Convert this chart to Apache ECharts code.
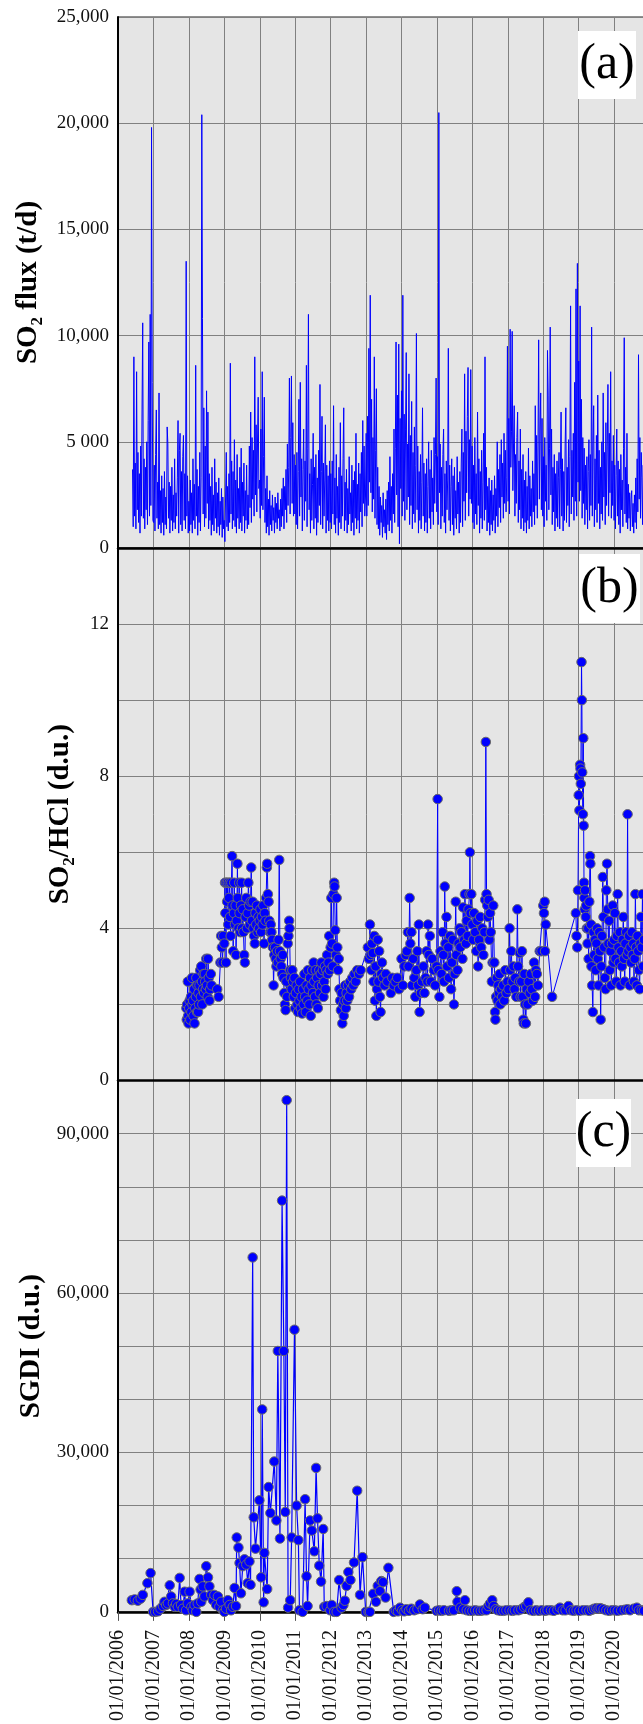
<!DOCTYPE html>
<html>
<head>
<meta charset="utf-8">
<script src="https://cdn.jsdelivr.net/npm/echarts/dist/echarts.min.js"></script>
<style>
  html, body { margin: 0; padding: 0; background: #fff; width: 643px; overflow: hidden; }
  #chart { width: 700px; height: 1724px; }
</style>
</head>
<body>
<div id="chart"></div>
<script>
// x axis is in decimal years; labels read 01/01/YYYY
const xMin = 2006;
const xMax = 2022;

// (a) SO2 flux, t/d, one reading per week from late May 2006
const fluxStart = 2006.41;
const fluxStep = 7 / 365.25;
const fluxValues = [
  // 2006
  3700,1000,9000,1500,4000,900,8300,1800,4500,1200,3500,700,4800,1500,6500,10600,1400,4200,900,3800,1800,5000,1100,6000,9700,1500,11000,2000,19800,7800,1300,
  // 2007
  1200,3900,800,4400,6500,1400,3100,900,7300,1100,2700,700,3400,1200,2800,600,3600,1100,2400,900,5700,4900,1400,3100,700,2900,1300,3800,800,2500,1200,4200,900,2600,1500,3300,6000,700,4600,5400,1100,3600,800,4300,5300,1300,3500,900,13500,1500,3400,700,
  // 2008
  2200,800,3200,1100,2600,700,4200,1300,3000,900,8600,1500,3700,600,2900,1200,4500,800,3300,20400,10800,1600,6600,1000,4800,1400,7400,2100,6400,900,3500,1300,2900,600,3800,1100,2500,800,4200,1400,3100,700,2600,1000,3300,600,2200,1100,2800,500,2400,900,
  // 2009
  1300,300,2400,4500,1000,2900,800,3500,1200,8700,1600,4100,900,3600,1300,5100,1000,3200,700,4400,1400,2800,900,3800,1200,4700,800,3100,1500,4000,700,2700,1300,3900,900,2500,1100,4800,1900,6400,1200,5200,2300,4600,1500,9000,2500,5800,1700,4900,7100,2800,
  // 2010
  3200,1400,5600,2000,8300,1800,4300,7100,1200,2800,700,3400,1000,2300,600,2700,1100,2000,800,2500,1300,1900,700,2400,1200,2100,900,2600,1400,1800,800,2300,1000,2800,1500,3300,900,2900,1800,3700,1200,4900,2000,3800,8000,1600,5200,8100,2100,5900,1500,4400,
  // 2011
  1600,3900,1100,4500,900,3600,7000,1500,7800,2400,4200,800,3700,5600,1300,4100,2200,8600,1000,4700,11000,1800,3500,700,4200,1300,3000,5400,900,3800,1400,4400,600,3300,1200,4600,2000,7700,1100,3600,6200,900,4000,1500,3200,5800,700,3900,1300,3400,800,4100,
  // 2012
  1200,3500,900,4100,1600,6700,1100,3300,700,4400,1400,2900,600,3800,1200,5900,900,3400,1500,4200,6600,800,3100,1300,3700,700,2800,1100,4300,1600,2600,800,3900,1200,3200,600,3600,1400,5400,900,3000,1300,4000,700,3500,1700,4500,1000,6000,2100,4800,1500,
  // 2013
  2400,5400,1500,6200,2000,9400,3100,11900,2600,7000,1700,5200,2300,9000,1400,4600,7500,1100,3800,900,2900,600,2400,1200,2000,500,2600,1000,1800,700,2300,400,2700,1100,3100,800,4300,1300,2900,700,3500,1600,5600,1200,4700,9700,2500,7200,1000,9600,200,6100,
  // 2014
  2800,7400,1500,11900,2200,6300,1300,5600,9200,1800,4900,2400,8200,1100,5300,2000,6900,900,4500,1600,5700,1200,3900,10100,1800,4800,700,3600,1300,4400,900,3100,6600,1500,4000,800,3500,1200,4200,700,2900,5000,1400,3700,900,4600,1700,3300,1100,5200,2100,4400,
  // 2015
  8000,1700,4300,1100,20500,2600,4900,900,3800,1500,4400,5600,1200,3500,700,4100,1800,3200,9400,1300,3900,800,2900,4200,1100,3400,600,3800,1400,2700,900,4300,1600,3100,700,3600,1200,4000,5600,1000,4500,2200,8200,1300,5500,2600,6200,8500,1500,5100,2300,8400,
  // 2016
  2100,4800,1200,3900,900,5200,1600,3500,1100,6400,2000,4200,700,3600,1400,4600,900,3100,5400,1300,9000,1800,3800,800,2900,1200,3300,600,2700,1100,3200,800,2500,1300,3400,700,2800,1500,5000,1000,3700,1900,4400,1200,5100,2400,4000,1400,5400,2100,4600,1700,
  // 2017
  3300,9500,2200,6100,1600,10300,3800,5500,10200,2700,4900,6700,1500,4400,2100,5200,6400,1200,4100,1800,5600,900,3700,1400,4400,800,3200,1200,3600,700,2900,1300,4700,900,3400,1500,2800,1000,4100,1700,3500,1100,6700,2000,5300,1400,4800,9800,2300,5600,7300,1800,
  // 2018
  6100,1500,4300,1000,5200,2200,3900,1300,9300,7200,1800,4700,10400,2500,5600,1100,3800,1700,4400,800,3500,1400,4100,1000,3300,4500,900,3700,6400,1500,4200,800,3600,1300,4900,6600,1200,3800,2000,5100,1000,4300,11400,1600,4600,2400,5400,1300,7800,2200,12200,1500,
  // 2019
  13400,3100,8800,2200,11400,2700,7000,1400,5200,2100,4700,1100,3900,1800,4300,900,3600,5100,1300,4400,2000,10400,1500,4900,6700,1000,4200,1800,5300,1200,7200,2100,4600,900,3800,1600,5000,1300,7300,2400,4500,1100,5900,2000,4800,7700,1500,5400,2600,8300,1400,4100,
  // 2020
  2000,5300,1300,3900,900,3400,5600,1500,4100,1100,3700,700,4400,1800,3200,1000,4700,9900,1600,3800,1200,5400,900,3000,1400,2600,800,2300,2700,1000,2100,700,2500,1200,3300,900,4200,1700,9100,2300,5200,1400,4500,3300,1100,3900,1600
];

// (b) SO2/HCl ratio, [decimal year, d.u.]
const ratioPoints = [
  [2007.93,1.9],[2007.94,1.6],[2007.95,2.0],[2007.97,2.6],[2007.98,1.7],[2007.99,1.5],[2008.01,1.9],[2008.02,2.1],[2008.04,1.6],[2008.06,2.2],[2008.07,1.8],[2008.09,2.7],[2008.10,2.0],[2008.12,2.1],[2008.13,1.7],[2008.15,2.4],[2008.16,1.5],[2008.18,1.9],[2008.20,2.2],[2008.21,2.7],[2008.23,1.8],[2008.24,2.5],[2008.26,1.8],[2008.27,2.3],[2008.29,2.0],[2008.30,2.5],[2008.32,2.9],[2008.34,2.2],[2008.35,3.0],[2008.37,2.6],[2008.38,2.0],[2008.40,2.4],[2008.41,2.8],[2008.43,2.3],[2008.45,2.8],[2008.46,2.6],[2008.48,2.4],[2008.49,3.2],[2008.51,2.5],[2008.53,2.2],[2008.54,3.2],[2008.56,2.7],[2008.58,2.1],[2008.60,2.4],[2008.62,2.8],[2008.64,2.5],
  [2008.80,2.4],[2008.84,2.2],[2008.89,3.1],[2008.91,3.8],[2008.93,3.5],[2008.95,3.1],[2008.97,3.8],
  [2009.00,3.6],[2009.02,5.2],[2009.03,4.4],[2009.05,3.1],[2009.06,5.2],[2009.08,4.7],[2009.10,5.2],[2009.11,4.1],[2009.13,4.8],[2009.15,5.2],[2009.16,4.3],[2009.18,3.8],[2009.20,5.2],[2009.22,5.9],[2009.23,4.6],[2009.25,3.4],[2009.27,4.4],[2009.28,5.2],[2009.30,4.1],[2009.32,4.6],[2009.33,3.3],[2009.35,4.2],[2009.37,5.7],[2009.38,4.8],[2009.40,4.0],[2009.42,5.2],[2009.43,4.4],[2009.45,3.9],[2009.47,4.6],[2009.49,5.2],[2009.50,4.0],[2009.52,4.5],[2009.54,3.9],[2009.56,3.3],[2009.58,3.1],[2009.60,4.3],[2009.62,4.8],[2009.64,4.0],[2009.66,4.4],[2009.68,5.2],[2009.70,4.6],[2009.72,4.1],[2009.74,4.7],[2009.76,5.6],[2009.78,4.2],[2009.80,4.7],[2009.82,4.0],[2009.84,3.8],[2009.86,3.6],[2009.88,4.4],[2009.90,4.1],[2009.92,4.6],[2009.94,3.9],[2009.96,4.3],[2009.98,4.0],
  [2010.00,4.2],[2010.02,4.5],[2010.04,3.9],[2010.06,4.3],[2010.08,4.1],[2010.10,4.6],[2010.12,3.6],[2010.14,4.4],[2010.16,4.2],[2010.18,4.8],[2010.20,5.6],[2010.21,5.7],[2010.23,4.9],[2010.25,4.7],[2010.27,4.2],[2010.29,3.9],[2010.31,4.1],[2010.33,3.9],[2010.35,3.7],[2010.37,3.5],[2010.39,2.5],[2010.41,3.3],[2010.43,3.5],[2010.45,3.2],[2010.47,3.0],[2010.49,3.4],[2010.51,3.1],[2010.53,3.7],[2010.55,5.8],[2010.57,3.4],[2010.59,3.2],
  [2010.61,3.0],[2010.63,2.8],[2010.65,3.3],[2010.67,2.7],[2010.69,2.3],[2010.71,2.0],[2010.73,1.85],[2010.75,2.6],[2010.77,2.2],[2010.79,3.6],[2010.81,3.8],[2010.83,4.2],[2010.84,4.0],[2010.86,2.9],[2010.88,2.7],[2010.90,2.4],[2010.92,2.9],[2010.94,2.6],[2010.96,2.2],[2010.98,2.7],
  [2011.00,1.9],[2011.02,2.3],[2011.04,2.5],[2011.06,2.0],[2011.08,1.8],[2011.10,2.4],[2011.12,2.1],[2011.14,2.6],[2011.16,1.9],[2011.18,2.2],[2011.20,1.76],[2011.22,2.4],[2011.24,2.0],[2011.26,2.8],[2011.28,2.2],[2011.30,1.8],[2011.32,2.5],[2011.34,2.1],[2011.36,2.9],[2011.38,2.4],[2011.40,2.0],[2011.42,2.7],[2011.44,1.7],[2011.46,2.5],[2011.48,2.9],[2011.50,2.3],[2011.52,3.1],[2011.54,2.6],[2011.56,2.2],[2011.58,2.9],[2011.60,2.0],[2011.62,2.7],[2011.64,1.9],[2011.66,2.5],[2011.68,2.9],[2011.70,2.3],[2011.72,2.8],[2011.74,3.1],[2011.76,2.5],[2011.78,2.9],[2011.80,2.2],[2011.82,2.6],[2011.84,3.0],[2011.86,2.4],[2011.88,2.9],[2011.90,3.3],[2011.92,2.8],[2011.94,3.1],[2011.96,3.8],[2011.98,2.9],
  [2012.00,3.5],[2012.02,4.8],[2012.04,3.6],[2012.06,3.0],[2012.08,4.9],[2012.10,5.2],[2012.11,5.1],[2012.13,3.95],[2012.15,3.3],[2012.17,4.8],[2012.19,3.5],[2012.21,2.9],[2012.23,3.2],[2012.25,2.4],[2012.27,2.1],[2012.29,1.85],[2012.31,2.3],[2012.33,1.5],[2012.35,2.0],[2012.37,1.7],[2012.39,2.1],[2012.41,2.5],[2012.43,1.9],[2012.45,2.3],[2012.47,2.1],[2012.49,2.5],[2012.52,2.2],[2012.55,2.6],[2012.58,2.4],[2012.61,2.7],[2012.64,2.5],[2012.67,2.8],[2012.71,2.6],[2012.75,2.9],[2012.80,2.8],[2012.85,2.9],
  [2013.05,3.5],[2013.08,3.2],[2013.11,4.1],[2013.13,3.3],[2013.15,2.9],[2013.17,3.6],[2013.19,3.35],[2013.21,2.6],[2013.23,3.8],[2013.25,2.1],[2013.27,3.0],[2013.29,1.7],[2013.31,2.4],[2013.33,3.7],[2013.35,2.6],[2013.37,3.4],[2013.39,2.2],[2013.41,1.8],[2013.43,2.8],[2013.45,3.1],[2013.48,2.7],[2013.52,2.5],[2013.56,2.8],[2013.60,2.6],
  [2013.70,2.3],[2013.74,2.7],[2013.78,2.5],[2013.83,2.6],[2013.88,2.7],[2013.93,2.4],[2014.00,3.2],[2014.04,2.5],[2014.08,3.0],[2014.12,3.3],[2014.15,3.4],[2014.18,3.9],[2014.20,3.0],[2014.23,4.8],[2014.25,3.6],[2014.28,3.9],[2014.30,2.5],[2014.33,3.2],[2014.36,2.7],[2014.39,2.2],[2014.42,2.9],[2014.45,3.4],[2014.47,2.5],[2014.49,4.1],[2014.51,1.8],
  [2014.55,2.3],[2014.58,2.6],[2014.62,3.0],[2014.65,2.3],[2014.68,2.7],[2014.71,3.4],[2014.73,2.6],[2014.75,4.1],[2014.77,3.3],[2014.80,3.8],[2014.83,2.6],[2014.87,3.2],[2014.91,2.9],[2014.95,2.5],[2014.99,3.0],[2015.02,7.4],[2015.04,2.9],
  [2015.07,2.2],[2015.10,3.4],[2015.13,2.8],[2015.16,3.9],[2015.18,3.3],[2015.20,2.6],[2015.22,5.1],[2015.24,3.6],[2015.27,4.3],[2015.29,3.0],[2015.32,3.5],[2015.34,2.7],[2015.37,3.8],[2015.40,2.4],[2015.42,3.1],[2015.45,3.7],[2015.48,2.0],[2015.50,2.8],[2015.53,4.7],[2015.55,3.3],[2015.58,2.9],[2015.61,3.6],[2015.64,4.0],[2015.66,3.5],[2015.69,3.9],[2015.72,3.2],[2015.74,4.55],[2015.77,3.7],[2015.79,4.9],[2015.82,3.6],[2015.84,4.2],[2015.87,3.8],[2015.89,4.5],[2015.92,4.9],[2015.93,6.0],[2015.95,4.4],[2015.97,4.9],
  [2016.00,4.1],[2016.02,3.7],[2016.05,4.4],[2016.08,3.9],[2016.11,3.4],[2016.14,4.2],[2016.16,3.0],[2016.19,3.7],[2016.22,4.3],[2016.25,3.5],[2016.28,4.0],[2016.31,3.3],[2016.34,3.9],[2016.36,4.75],[2016.38,8.9],[2016.40,4.9],[2016.42,4.6],[2016.44,4.3],[2016.46,4.75],[2016.48,3.7],[2016.50,4.4],[2016.52,3.9],[2016.55,2.6],[2016.57,3.1],[2016.59,4.6],[2016.62,3.1],
  [2016.64,1.8],[2016.65,1.6],[2016.67,2.2],[2016.69,2.7],[2016.71,2.1],[2016.73,2.5],[2016.75,2.3],[2016.77,2.8],[2016.79,2.0],[2016.81,2.4],[2016.84,2.2],[2016.87,2.5],[2016.90,2.1],[2016.93,2.9],[2016.96,2.3],[2016.99,2.6],[2017.02,2.4],[2017.05,4.0],[2017.07,2.9],[2017.10,3.4],[2017.13,2.6],[2017.16,3.0],[2017.19,2.4],[2017.21,2.7],[2017.24,2.2],[2017.27,4.5],[2017.29,3.0],
  [2017.32,2.6],[2017.34,3.35],[2017.36,2.2],[2017.38,2.6],[2017.40,3.4],[2017.42,2.2],[2017.44,1.6],[2017.45,1.5],[2017.47,2.8],[2017.49,2.0],[2017.51,1.5],[2017.53,2.4],[2017.56,2.0],[2017.59,2.6],[2017.62,2.3],[2017.65,2.8],[2017.68,2.4],[2017.71,2.1],[2017.74,3.1],[2017.77,2.2],[2017.79,2.9],[2017.82,2.8],[2017.85,2.5],
  [2017.90,3.4],[2017.95,3.4],[2018.00,4.6],[2018.02,4.4],[2018.04,4.7],[2018.05,3.4],[2018.07,4.1],[2018.25,2.2],
  [2018.92,4.4],[2018.94,3.8],[2018.96,3.5],[2018.98,5.0],[2019.00,7.5],[2019.01,8.0],[2019.02,7.1],[2019.04,8.3],[2019.05,8.2],[2019.06,7.8],[2019.08,11.0],[2019.09,10.0],[2019.10,8.1],[2019.12,7.0],[2019.13,9.0],[2019.14,6.7],[2019.15,5.2],[2019.16,4.8],[2019.17,4.5],[2019.18,5.0],[2019.20,4.3],[2019.21,4.6],[2019.23,4.0],[2019.25,3.6],[2019.27,4.0],[2019.28,3.2],[2019.30,4.7],[2019.32,5.9],[2019.33,5.7],[2019.35,4.1],[2019.36,3.0],[2019.38,2.5],[2019.40,1.8],[2019.42,3.9],[2019.44,3.3],[2019.46,3.7],[2019.48,2.9],[2019.50,3.6],[2019.52,4.0],[2019.54,3.2],[2019.56,2.5],[2019.58,3.9],[2019.60,3.4],[2019.62,1.6],[2019.64,3.0],[2019.66,3.8],[2019.68,5.35],[2019.70,4.3],[2019.72,3.5],[2019.74,2.7],[2019.76,2.4],[2019.78,5.0],[2019.80,5.7],[2019.82,4.5],[2019.84,3.6],[2019.86,4.2],[2019.88,2.9],[2019.90,3.4],[2019.92,2.5],[2019.94,3.6],[2019.96,4.6],[2019.98,3.1],
  [2020.00,3.7],[2020.02,4.4],[2020.04,3.2],[2020.06,2.6],[2020.08,3.8],[2020.10,4.9],[2020.12,3.5],[2020.14,3.1],[2020.16,3.9],[2020.18,2.5],[2020.20,3.4],[2020.22,3.0],[2020.24,3.7],[2020.26,4.3],[2020.28,3.2],[2020.30,2.6],[2020.32,3.6],[2020.34,3.9],[2020.36,3.3],[2020.38,7.0],[2020.40,3.4],[2020.42,3.8],[2020.44,2.5],[2020.46,3.5],[2020.48,3.1],[2020.50,3.9],[2020.52,3.3],[2020.54,3.6],[2020.56,2.6],[2020.58,3.2],[2020.60,4.9],[2020.62,3.5],[2020.64,2.5],[2020.66,3.8],[2020.68,3.4],[2020.70,2.9],[2020.72,2.4],[2020.74,3.6],[2020.76,4.3],[2020.78,3.5],[2020.80,4.9],[2020.82,3.0],[2020.84,3.7]
];

// (c) SGDI, [decimal year, d.u.]
const sgdiPoints = [
  [2006.39,2200],[2006.47,2350],[2006.56,2100],[2006.64,2500],[2006.70,3200],[2006.83,5400],[2006.92,7300],
  [2006.99,0],[2007.05,0],[2007.13,100],[2007.20,600],[2007.27,1100],[2007.31,1900],[2007.36,1300],[2007.41,1600],[2007.46,5000],[2007.50,2900],[2007.55,1600],[2007.60,950],[2007.64,1500],[2007.69,950],[2007.74,6400],[2007.78,1300],[2007.83,600],[2007.88,3800],[2007.92,300],[2007.97,1600],
  [2008.02,3800],[2008.07,950],[2008.11,300],[2008.16,1300],[2008.21,0],[2008.25,1600],[2008.30,6200],[2008.33,4200],[2008.35,1900],[2008.39,4800],[2008.44,2900],[2008.49,8600],[2008.54,6500],[2008.58,4800],[2008.63,3200],[2008.68,2200],[2008.72,3200],[2008.77,1300],[2008.82,2900],[2008.86,950],[2008.91,1900],[2008.96,300],
  [2009.00,0],[2009.05,600],[2009.10,2200],[2009.15,1300],[2009.19,300],[2009.24,950],[2009.29,4500],[2009.33,1100],[2009.35,14000],[2009.40,12100],[2009.43,9200],[2009.47,3500],[2009.52,8600],[2009.57,9900],[2009.62,8900],[2009.66,5400],[2009.71,9500],[2009.74,5100],
  [2009.80,66700],[2009.83,17800],[2009.88,11900],[2009.99,21000],[2010.04,6500],[2010.07,38100],[2010.11,1800],[2010.13,11100],[2010.21,4300],[2010.25,23500],[2010.30,18600],[2010.41,28300],[2010.47,17200],[2010.51,49100],[2010.57,13800],[2010.63,77400],[2010.68,49100],[2010.72,18800],[2010.76,96300],[2010.80,800],[2010.86,2200],[2010.90,14000],[2010.98,53100],
  [2011.04,20000],[2011.09,13500],[2011.12,300],[2011.21,0],[2011.28,21200],[2011.32,6700],[2011.35,1100],[2011.42,17200],[2011.47,15300],[2011.54,11400],[2011.59,27100],[2011.63,17600],[2011.68,8700],[2011.73,5700],[2011.79,15600],[2011.82,950],[2011.89,1100],[2011.99,300],
  [2012.03,1300],[2012.10,0],[2012.17,0],[2012.24,6000],[2012.31,800],[2012.36,1300],[2012.40,2100],[2012.45,4900],[2012.50,7500],[2012.56,6000],[2012.66,9300],[2012.75,22800],[2012.83,3200],[2012.90,10300],[2012.99,0],[2013.07,0],[2013.11,0],
  [2013.20,3400],[2013.28,1900],[2013.33,4900],[2013.39,3900],[2013.43,5800],[2013.48,5600],[2013.55,2700],[2013.63,8300],
  [2013.78,0],[2013.84,300],[2013.90,100],[2013.96,800],[2014.02,300],[2014.08,100],[2014.14,500],[2014.21,200],[2014.28,600],[2014.36,300],[2014.45,500],[2014.52,1400],[2014.60,500],[2014.66,800],
  [2014.99,200],[2015.06,300],[2015.13,200],[2015.20,300],[2015.34,200],[2015.41,300],[2015.48,300],[2015.56,3900],[2015.58,1900],[2015.66,800],[2015.74,500],[2015.79,2200],[2015.84,300],[2015.92,200],
  [2016.00,200],[2016.08,300],[2016.16,200],[2016.24,200],[2016.32,300],[2016.40,300],[2016.45,1100],[2016.50,1600],[2016.56,2200],[2016.60,1100],[2016.66,500],[2016.72,300],[2016.80,200],[2016.88,200],[2016.96,300],
  [2017.05,300],[2017.13,200],[2017.20,300],[2017.30,300],[2017.38,500],[2017.46,900],[2017.52,1100],[2017.58,1800],[2017.64,300],[2017.72,200],[2017.80,300],[2017.88,200],[2017.96,300],
  [2018.05,200],[2018.12,300],[2018.22,300],[2018.30,200],[2018.40,400],[2018.47,800],[2018.55,300],[2018.63,300],[2018.71,1100],[2018.78,300],[2018.86,200],[2018.94,300],
  [2019.02,200],[2019.12,300],[2019.22,300],[2019.30,200],[2019.38,400],[2019.44,600],[2019.50,700],[2019.56,600],[2019.62,700],[2019.70,500],[2019.78,300],[2019.86,200],[2019.94,300],
  [2020.02,300],[2020.10,200],[2020.20,300],[2020.30,400],[2020.38,500],[2020.45,300],[2020.55,600],[2020.64,800],[2020.70,300],[2020.78,300],[2020.84,200]
];

// y tick labels
const fluxTicks = [0, 5000, 10000, 15000, 20000, 25000];
const fluxTickLabels = ['0', '5 000', '10,000', '15,000', '20,000', '25,000'];
const ratioTicks = [0, 4, 8, 12];
const sgdiTicks = [0, 30000, 60000, 90000];
const panelLetters = ['(a)', '(b)', '(c)'];

const serif = 'Liberation Serif';
const blue = '#0000ff';

function withCommas(v) {
  return String(v).replace(/\B(?=(\d{3})+(?!\d))/g, ',');
}

const chart = echarts.init(document.getElementById('chart'), null, { renderer: 'canvas' });

const gridBase = { left: 118, right: 15, show: true, backgroundColor: '#e5e5e5', borderColor: '#222', borderWidth: 1 };

function xAxisFor(gridIndex, showLabels) {
  return {
    type: 'value',
    gridIndex: gridIndex,
    min: xMin,
    max: xMax,
    interval: 1,
    axisLine: { show: true, onZero: false, lineStyle: { color: '#000', width: 2.5 } },
    axisTick: { show: showLabels, length: 9, lineStyle: { color: '#555', width: 1 } },
    axisLabel: {
      show: showLabels,
      rotate: 90,
      margin: 18,
      color: '#111',
      fontFamily: serif,
      fontSize: 20,
      formatter: v => (v <= 2020 ? '01/01/' + v : '')
    },
    splitLine: { show: true, lineStyle: { color: '#808080', width: 1 } }
  };
}

const nameRich = {
  t: { fontFamily: serif, fontWeight: 'bold', fontSize: 29, color: '#000', lineHeight: 34 },
  s: { fontFamily: serif, fontWeight: 'bold', fontSize: 17, color: '#000', lineHeight: 15, verticalAlign: 'bottom' }
};

function yAxisFor(gridIndex, opts) {
  return Object.assign({
    type: 'value',
    gridIndex: gridIndex,
    min: 0,
    nameLocation: 'middle',
    nameRotate: 90,
    nameTextStyle: { fontFamily: serif, fontWeight: 'bold', fontSize: 29, color: '#000', rich: nameRich },
    axisLine: { show: true, lineStyle: { color: '#000', width: 2 } },
    axisTick: { show: false },
    splitLine: { show: true, lineStyle: { color: '#808080', width: 1 } }
  }, opts);
}

const tickLabelStyle = { color: '#111', fontFamily: serif, fontSize: 19, margin: 9 };

const option = {
  animation: false,
  textStyle: { fontFamily: serif },
  grid: [
    Object.assign({ top: 17, height: 531 }, gridBase),
    Object.assign({ top: 548, height: 532.5 }, gridBase),
    Object.assign({ top: 1080.5, height: 532 }, gridBase)
  ],
  xAxis: [xAxisFor(0, false), xAxisFor(1, false), xAxisFor(2, true)],
  yAxis: [
    yAxisFor(0, {
      max: 25000, interval: 5000,
      name: '{t|SO}{s|2}{t| flux (t/d)}', nameGap: 70,
      axisLabel: Object.assign({
        formatter: v => { const i = fluxTicks.indexOf(v); return i >= 0 ? fluxTickLabels[i] : ''; }
      }, tickLabelStyle)
    }),
    yAxisFor(1, {
      max: 14, interval: 2,
      name: '{t|SO}{s|2}{t|/HCl (d.u.)}', nameGap: 40,
      axisLabel: Object.assign({
        formatter: v => (ratioTicks.indexOf(v) >= 0 ? String(v) : '')
      }, tickLabelStyle)
    }),
    yAxisFor(2, {
      max: 100000, interval: 10000,
      name: '{t|SGDI (d.u.)}', nameGap: 68,
      axisLabel: Object.assign({
        formatter: v => (sgdiTicks.indexOf(v) >= 0 ? withCommas(v) : '')
      }, tickLabelStyle)
    })
  ],
  series: [
    {
      name: 'SO2 flux',
      type: 'line',
      xAxisIndex: 0, yAxisIndex: 0,
      showSymbol: false,
      sampling: null,
      lineStyle: { color: blue, width: 1 },
      data: fluxValues.map((v, i) => [fluxStart + i * fluxStep, v])
    },
    {
      name: 'SO2/HCl',
      type: 'line',
      xAxisIndex: 1, yAxisIndex: 1,
      symbol: 'circle',
      symbolSize: 9.5,
      itemStyle: { color: blue, borderColor: '#6a6a6a', borderWidth: 1 },
      lineStyle: { color: blue, width: 1 },
      data: ratioPoints
    },
    {
      name: 'SGDI',
      type: 'line',
      xAxisIndex: 2, yAxisIndex: 2,
      symbol: 'circle',
      symbolSize: 9.5,
      itemStyle: { color: blue, borderColor: '#6a6a6a', borderWidth: 1 },
      lineStyle: { color: blue, width: 1.2 },
      data: sgdiPoints
    }
  ],
  graphic: [
    { type: 'rect', shape: { x: 578, y: 31, width: 58, height: 68 }, style: { fill: '#fff' }, z: 100 },
    { type: 'text', x: 607, y: 65, z: 101, style: { text: panelLetters[0], fontFamily: serif, fontSize: 50, fill: '#000', align: 'center', verticalAlign: 'middle' } },
    { type: 'rect', shape: { x: 579, y: 554, width: 61, height: 69 }, style: { fill: '#fff' }, z: 100 },
    { type: 'text', x: 609.5, y: 588.5, z: 101, style: { text: panelLetters[1], fontFamily: serif, fontSize: 50, fill: '#000', align: 'center', verticalAlign: 'middle' } },
    { type: 'rect', shape: { x: 576, y: 1099, width: 55, height: 68 }, style: { fill: '#fff' }, z: 100 },
    { type: 'text', x: 603.5, y: 1133, z: 101, style: { text: panelLetters[2], fontFamily: serif, fontSize: 50, fill: '#000', align: 'center', verticalAlign: 'middle' } }
  ]
};

chart.setOption(option);
</script>
</body>
</html>
